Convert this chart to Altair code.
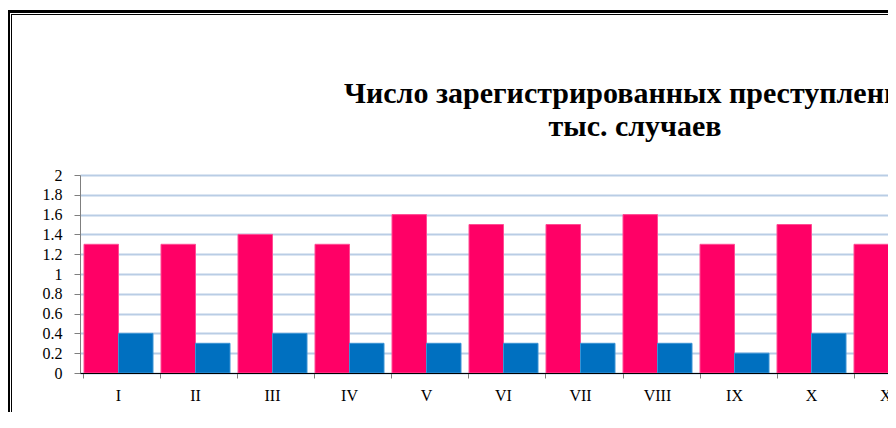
import altair as alt
import pandas as pd

months = ["I", "II", "III", "IV", "V", "VI", "VII", "VIII", "IX", "X", "XI", "XII"]
series_names = ["Ряд1", "Ряд2"]
values_pink = [1.3, 1.3, 1.4, 1.3, 1.6, 1.5, 1.5, 1.6, 1.3, 1.5, 1.3, 1.4]
values_blue = [0.4, 0.3, 0.4, 0.3, 0.3, 0.3, 0.3, 0.3, 0.2, 0.4, 0.3, 0.3]
y_ticks = [0, 0.2, 0.4, 0.6, 0.8, 1, 1.2, 1.4, 1.6, 1.8, 2]
title_lines = ["Число зарегистрированных преступлений,", "тыс. случаев"]

rows = []
for m, a, b in zip(months, values_pink, values_blue):
    rows.append({"month": m, "series": series_names[0], "value": a})
    rows.append({"month": m, "series": series_names[1], "value": b})
df = pd.DataFrame(rows)

VIS_W = 808
FULL_W = 924
H = 198
STEP = FULL_W / len(months)

bars = alt.Chart(df).mark_bar(strokeWidth=1).encode(
    x=alt.X(
        "month:N",
        sort=months,
        scale=alt.Scale(range=[0, FULL_W], paddingInner=8 / STEP, paddingOuter=4 / STEP),
        axis=alt.Axis(
            title=None, labelAngle=0, bandPosition=0, grid=False,
            domainColor="#000000", domainWidth=1, tickColor="#7f7f7f", tickSize=5,
            labelFont="Liberation Serif", labelFontSize=16, labelColor="#000000",
            labelPadding=9, zindex=1,
        ),
    ),
    xOffset=alt.XOffset("series:N", sort=series_names,
                        scale=alt.Scale(paddingInner=0, paddingOuter=0)),
    y=alt.Y(
        "value:Q",
        scale=alt.Scale(domain=[0, 2], nice=False),
        axis=alt.Axis(
            title=None, values=y_ticks, format="~g", grid=True,
            gridColor="#B9CDE5", gridWidth=2,
            domainColor="#7f7f7f", tickColor="#7f7f7f", tickSize=6,
            labelFont="Liberation Serif", labelFontSize=16, labelColor="#000000",
            labelPadding=12, zindex=0,
        ),
    ),
    color=alt.Color("series:N", scale=alt.Scale(domain=series_names, range=["#FF0066", "#0070C0"]), legend=None),
    stroke=alt.Stroke("series:N", scale=alt.Scale(domain=series_names, range=["#FF4D94", "#3A93D4"]), legend=None),
)

one = pd.DataFrame({"k": [0]})
title = alt.Chart(one).mark_text(
    font="Liberation Serif", fontSize=30, fontWeight="bold", color="#000000",
    align="center", baseline="alphabetic", lineHeight=33,
).encode(x=alt.value(555), y=alt.value(-72), text=alt.value(title_lines))

frame_top_outer = alt.Chart(one).mark_rule(color="#000000", strokeWidth=3).encode(
    x=alt.value(-72), x2=alt.value(1200), y=alt.value(-163.5))
frame_top_inner = alt.Chart(one).mark_rule(color="#000000", strokeWidth=1).encode(
    x=alt.value(-69), x2=alt.value(1200), y=alt.value(-160.5))
frame_left_outer = alt.Chart(one).mark_rule(color="#000000", strokeWidth=3).encode(
    x=alt.value(-71.5), y=alt.value(-165), y2=alt.value(400))
frame_left_inner = alt.Chart(one).mark_rule(color="#000000", strokeWidth=1).encode(
    x=alt.value(-68.5), y=alt.value(-161), y2=alt.value(400))

chart = alt.layer(
    bars, title, frame_top_outer, frame_top_inner, frame_left_outer, frame_left_inner
).properties(
    width=VIS_W,
    height=H,
    autosize=alt.AutoSizeParams(type="none"),
    padding={"left": 72, "top": 167, "right": 0, "bottom": 39},
).configure_view(stroke=None).configure(background="#ffffff")

chart.save("out.html", embed_options={"renderer": "svg", "actions": False})
